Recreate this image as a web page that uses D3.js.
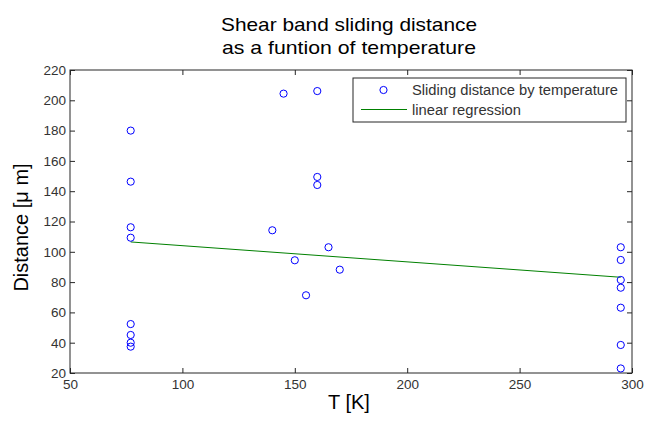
<!DOCTYPE html>
<html><head><meta charset="utf-8">
<script src="https://cdn.jsdelivr.net/npm/d3@7"></script>
<style>body{margin:0;background:#fff;} text{font-family:"Liberation Sans",Arial,sans-serif;}</style>
</head><body><svg id="c" width="647" height="422"></svg>
<script>
const tempK = [77,77,77,77,77,77,77,77, 145,160,160,160,140,165,150,170,155, 295,295,295,295,295,295,295];
const distance = [180,146.3,116.2,109.3,52.3,45.1,40,37.4, 204.4,206.1,149.4,144.1,114.2,103,94.4,88.2,71.3, 103,94.6,81.4,76.3,63.1,38.5,23];
const regT = [77,295];
const regD = [106.5,83.2];
const xTicks = [50,100,150,200,250,300];
const yTicks = [20,40,60,80,100,120,140,160,180,200,220];
const titleLines = ["Shear band sliding distance","as a funtion of temperature"];
const legendLabels = ["Sliding distance by temperature","linear regression"];

const svg = d3.select("#c");
const L=70,R=632,T=70,B=373;
const x = d3.scaleLinear().domain([50,300]).range([L,R]);
const y = d3.scaleLinear().domain([20,220]).range([B,T]);
const axCol="#262626";

svg.append("rect").attr("x",L).attr("y",T).attr("width",R-L).attr("height",B-T)
  .attr("fill","#fff").attr("stroke",axCol).attr("stroke-width",1);

const tl=5;
const gx = svg.append("g").attr("transform",`translate(0,${B})`)
  .call(d3.axisBottom(x).tickValues(xTicks).tickSizeInner(-tl).tickSizeOuter(0).tickPadding(6));
const gxt = svg.append("g").attr("transform",`translate(0,${T})`)
  .call(d3.axisTop(x).tickValues(xTicks).tickSizeInner(-tl).tickSizeOuter(0).tickFormat(""));
const gy = svg.append("g").attr("transform",`translate(${L},0)`)
  .call(d3.axisLeft(y).tickValues(yTicks).tickSizeInner(-tl).tickSizeOuter(0).tickPadding(4));
const gyr = svg.append("g").attr("transform",`translate(${R},0)`)
  .call(d3.axisRight(y).tickValues(yTicks).tickSizeInner(-tl).tickSizeOuter(0).tickFormat(""));
[gx,gxt,gy,gyr].forEach(g=>{
  g.select(".domain").remove();
  g.selectAll("line").attr("stroke",axCol);
  g.selectAll("text").attr("fill","#333").style("font-size","13.5px").style("font-family","'Liberation Sans',Arial,sans-serif");
});

svg.append("path").datum(regT.map((t,i)=>[t,regD[i]]))
  .attr("d",d3.line().x(d=>x(d[0])).y(d=>y(d[1])))
  .attr("stroke","#008000").attr("stroke-width",1).attr("fill","none");

svg.append("g").selectAll("circle").data(tempK.map((t,i)=>[t,distance[i]])).join("circle")
  .attr("cx",d=>x(d[0])).attr("cy",d=>y(d[1])).attr("r",3.6)
  .attr("fill","none").attr("stroke","#0000ff").attr("stroke-width",1);

const titleW=[256,254];
titleLines.forEach((t,i)=>svg.append("text").attr("x",(L+R)/2-2).attr("y",31+i*22.5)
  .attr("text-anchor","middle").style("font-size","19px").attr("fill","#000")
  .attr("textLength",titleW[i]).attr("lengthAdjust","spacingAndGlyphs").text(t));

svg.append("text").attr("x",349).attr("y",409).attr("text-anchor","middle")
  .style("font-size","20px").text("T [K]");
svg.append("text").attr("transform",`translate(28,${(T+B)/2+6}) rotate(-90)`).attr("text-anchor","middle")
  .style("font-size","20px").text("Distance [\u03bc m]");

const lg = svg.append("g");
lg.append("rect").attr("x",353).attr("y",78).attr("width",273).attr("height",44)
  .attr("fill","#fff").attr("stroke",axCol).attr("stroke-width",1);
lg.append("circle").attr("cx",383.5).attr("cy",90).attr("r",3.6).attr("fill","none").attr("stroke","#0000ff");
lg.append("line").attr("x1",361).attr("x2",407).attr("y1",109.5).attr("y2",109.5).attr("stroke","#008000");
const legW=[206,109];
legendLabels.forEach((t,i)=>lg.append("text").attr("x",412).attr("y",95+i*19.5)
  .style("font-size","14px").attr("fill","#333")
  .attr("textLength",legW[i]).attr("lengthAdjust","spacingAndGlyphs").text(t));
</script></body></html>
